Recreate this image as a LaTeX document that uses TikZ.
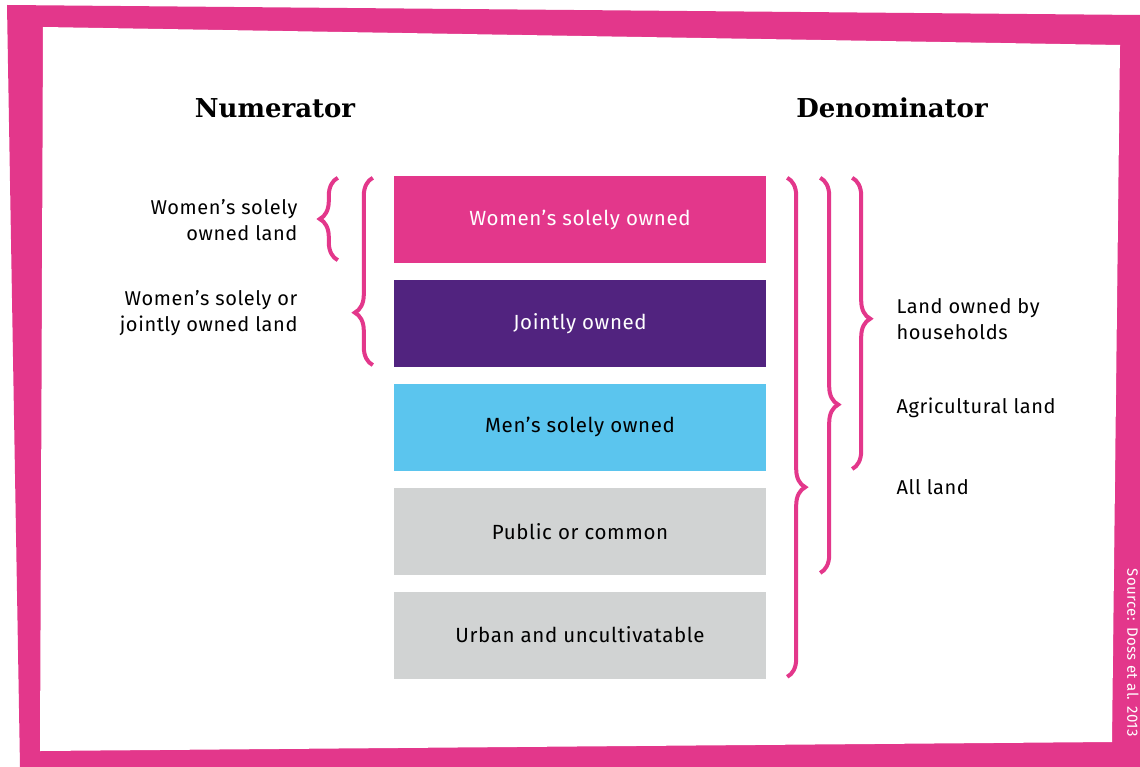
\documentclass[tikz,border=0pt]{standalone}
\usepackage{fontspec}
\setsansfont{Fira Sans}[LetterSpace=3]
\newfontfamily\headfont{DejaVu Serif}
\usetikzlibrary{positioning,decorations.pathreplacing}

\definecolor{framepink}{HTML}{E3378B}
\definecolor{jointpurple}{HTML}{51237F}
\definecolor{menblue}{HTML}{5BC5EE}
\definecolor{landgrey}{HTML}{D1D3D3}

\tikzset{
  landbox/.style={minimum width=372pt, minimum height=87pt, inner sep=0pt,
    font=\sffamily\fontsize{20.5}{25}\selectfont},
  curly/.style={draw=framepink, line width=4pt, decorate,
    decoration={brace, amplitude=18pt, #1}},
  curly/.default={aspect=0.5},
  sidelabel/.style={font=\sffamily\fontsize{20}{26}\selectfont},
  heading/.style={font=\headfont\bfseries\fontsize{26}{30}\selectfont},
}

\begin{document}
\begin{tikzpicture}[x=1pt, y=-1pt]
% frame
\fill[white] (0,0) rectangle (1140,767);
\fill[framepink] (7,5) -- (1140,15) -- (1140,767) -- (20,767) -- cycle;
\fill[white] (43,27) -- (1120,45) -- (1112,742) -- (40,751) -- cycle;
\useasboundingbox (0,0) rectangle (1140,767);

\node[heading] (numer) at (275,108) {Numerator};
\node[heading] (denom) at (892,108) {Denominator};

% the five kinds of land
\node[landbox, fill=framepink, text=white] (wsole) at (580,219.5) {Women’s solely owned};
\node[landbox, fill=jointpurple, text=white, below=16.5pt of wsole] (joint) {Jointly owned};
\node[landbox, fill=menblue, below=16.5pt of joint] (msole) {Men’s solely owned};
\node[landbox, fill=landgrey, below=16.5pt of msole] (public) {Public or common};
\node[landbox, fill=landgrey, below=16.5pt of public] (urban) {Urban and uncultivatable};

% numerator braces
\draw[curly] ([xshift=-56pt,yshift=3pt]wsole.south west) -- ([xshift=-56pt,yshift=-2pt]wsole.north west);
\draw[curly={aspect=0.28}] ([xshift=-21pt,yshift=2pt]joint.south west) -- ([xshift=-21pt,yshift=-2pt]wsole.north west);

\node[sidelabel, anchor=east, align=right] (wsolelab) at (301,220) {Women’s solely\\owned land};
\node[sidelabel, anchor=east, align=right] (jointlab) at (301,313) {Women’s solely or\\jointly owned land};

% denominator braces
\draw[curly={aspect=0.62}] ([xshift=21pt,yshift=-2pt]wsole.north east) -- ([xshift=21pt,yshift=2pt]urban.south east);
\draw[curly={aspect=0.574}] ([xshift=54pt,yshift=-2pt]wsole.north east) -- ([xshift=54pt,yshift=2pt]public.south east);
\draw[curly={aspect=0.484}] ([xshift=86pt,yshift=-2pt]wsole.north east) -- ([xshift=86pt,yshift=2pt]msole.south east);

\node[sidelabel, anchor=west, align=left] (hholdlab) at (893,319) {Land owned by\\households};
\node[sidelabel, anchor=west] (agrilab) at (893,408) {Agricultural land};
\node[sidelabel, anchor=west] (alllab) at (893,487) {All land};

\node[rotate=-90, text=white, font=\sffamily\fontsize{15}{16}\selectfont] (source) at (1133,653) {Source: Doss et al. 2013};
\end{tikzpicture}
\end{document}
